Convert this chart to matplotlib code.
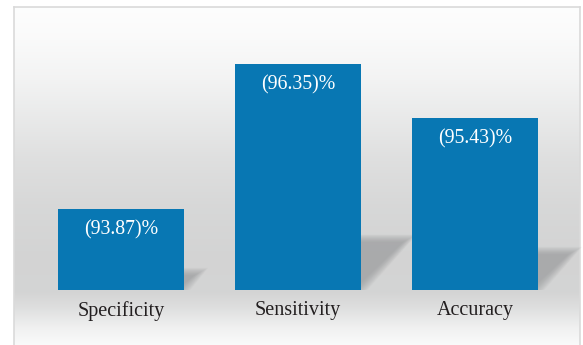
import numpy as np
import matplotlib
matplotlib.use("Agg")
import matplotlib.pyplot as plt
from matplotlib.patches import Polygon

categories = ["Specificity", "Sensitivity", "Accuracy"]
values = [93.87, 96.35, 95.43]
value_labels = ["(93.87)%", "(96.35)%", "(95.43)%"]

W, H = 583, 345
DPI = 100
fig = plt.figure(figsize=(W / DPI, H / DPI), dpi=DPI)
fig.patch.set_facecolor("white")

def fx(px):
    return px / W

def fy(py):
    return 1 - py / H

# background panel with gradient
box_l, box_r, box_t, box_b = 14, 580, 7, 345
bg = fig.add_axes([fx(box_l), fy(box_b), fx(box_r - box_l), (box_b - box_t) / H])
stops_y = np.array([0, 30, 70, 110, 150, 200, 250, 285, 300, 320, 338])
stops_v = np.array([253, 250, 243, 233, 223, 215, 211, 212, 222, 240, 250]) / 255.0
ys = np.arange(box_b - box_t)
grad = np.interp(ys, stops_y, stops_v)
img = np.repeat(grad[:, None], 2, axis=1)
bg.imshow(np.dstack([img, img + 0.002, img + 0.002]).clip(0, 1), aspect="auto",
          extent=[0, 1, 0, 1], origin="upper")
bg.set_xlim(0, 1)
bg.set_ylim(0, 1)
bg.set_xticks([])
bg.set_yticks([])
for s in ["left", "top", "right"]:
    bg.spines[s].set_color("#dadada")
    bg.spines[s].set_linewidth(1.2)
bg.spines["bottom"].set_visible(False)

# main axes
base = 92.48
px_per_unit = 58.4
ax_left_px, ax_right_px = 32.5, 563.5
ax_bottom_px = 290
ax_top_px = 7
ax = fig.add_axes([fx(ax_left_px), fy(ax_bottom_px), fx(ax_right_px - ax_left_px),
                   (ax_bottom_px - ax_top_px) / H])
ax.set_facecolor("none")
ax.set_xlim(-0.5, 2.5)
ax.set_ylim(base, base + (ax_bottom_px - ax_top_px) / px_per_unit)

x = np.arange(len(categories))
bw = 0.712
unit_px = (ax_right_px - ax_left_px) / 3.0

# soft shadows
for xi, v in zip(x, values):
    h = v - base
    sh = 0.23 * h
    shift = 0.95 * sh * px_per_unit / unit_px
    x0 = xi - bw / 2
    x1 = xi + bw / 2
    n = 14
    for k in range(n):
        e = 0.006 * (k - n / 2)
        ey = 0.010 * (k - n / 2)
        poly = Polygon([(x0, base), (x1 + e, base), (x1 + shift + e, base + sh + ey),
                        (x0 + shift, base + sh + ey)], closed=True,
                       facecolor="#8e9092", edgecolor="none", alpha=0.055, zorder=1,
                       clip_on=False)
        ax.add_patch(poly)

bars = ax.bar(x, [v - base for v in values], bottom=base, width=bw,
              color="#0877b3", zorder=3)

for xi, v, lab in zip(x, values, value_labels):
    ax.annotate(lab, (xi, v), xytext=(0, -21 * 72 / DPI), textcoords="offset points",
                ha="center", va="center", color="white", fontsize=14.3,
                family="Liberation Serif", zorder=4)

ax.set_xticks(x)
ax.set_xticklabels(categories, fontsize=14.5, family="Liberation Serif", color="#231f20")
ax.tick_params(axis="x", length=0, pad=8)
ax.set_yticks([])
for s in ax.spines.values():
    s.set_visible(False)

fig.savefig("out.png", dpi=DPI)
